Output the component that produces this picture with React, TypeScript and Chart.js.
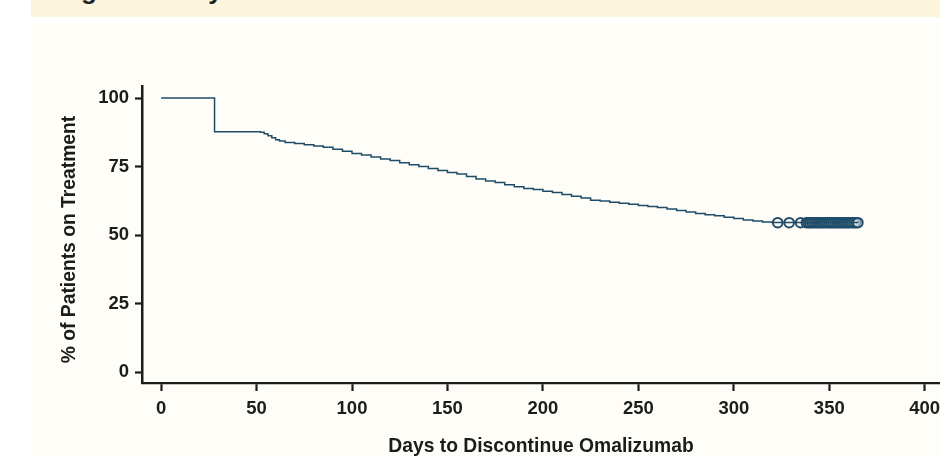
import React, { useEffect, useRef } from "react";
import { Chart, registerables } from "chart.js";

Chart.register(...registerables);

// Kaplan-Meier style step data: day -> % of patients still on treatment
const kmDays = [
  0, 28, 52, 54, 56, 58, 60, 62, 65, 70, 75, 80, 85, 90, 95, 100, 105, 110, 115, 120,
  125, 130, 135, 140, 145, 150, 155, 160, 165, 170, 175, 180, 185, 190, 195, 200, 205,
  210, 215, 220, 225, 230, 235, 240, 245, 250, 255, 260, 265, 270, 275, 280, 285, 290,
  295, 300, 305, 310, 315, 320, 365,
];
const kmPercent = [
  100, 87.7, 87.5, 87.0, 86.2, 85.5, 84.8, 84.3, 83.8, 83.4, 83.0, 82.5, 82.0, 81.3, 80.6,
  79.8, 79.2, 78.5, 77.8, 77.2, 76.4, 75.7, 75.0, 74.3, 73.6, 72.8, 72.3, 71.4, 70.5, 69.7,
  69.2, 68.4, 67.6, 67.0, 66.6, 66.0, 65.5, 64.8, 64.2, 63.5, 62.7, 62.4, 62.0, 61.6, 61.2,
  60.8, 60.4, 60.1, 59.5, 59.0, 58.4, 57.9, 57.4, 57.0, 56.5, 56.0, 55.5, 55.1, 54.8, 54.6,
  54.5,
];

// Censored observations (open circles)
const censorDays = [
  323, 329, 335, 338, 339, 340, 341, 342, 343, 344, 345, 346, 347, 348, 349, 350, 351,
  352, 353, 354, 355, 356, 357, 358, 359, 360, 361, 362, 363, 364, 365,
];
const censorPercent = [
  54.5, 54.5, 54.5, 54.5, 54.5, 54.5, 54.5, 54.5, 54.5, 54.5, 54.5, 54.5, 54.5, 54.5, 54.5,
  54.5, 54.5, 54.5, 54.5, 54.5, 54.5, 54.5, 54.5, 54.5, 54.5, 54.5, 54.5, 54.5, 54.5, 54.5,
  54.5,
];

const xTicks = [0, 50, 100, 150, 200, 250, 300, 350, 400];
const yTicks = [0, 25, 50, 75, 100];

const xTitle = "Days to Discontinue Omalizumab";
const yTitle = "% of Patients on Treatment";
const headerText = "Figure 3: Days to Discontinue Omalizumab";

const LINE = "#1f4d69";
const INK = "#1c1c1c";
const FONT = "'Liberation Sans', Arial, Helvetica, sans-serif";

const titlesPlugin = {
  id: "axisTitles",
  afterDraw(chart: any) {
    const { ctx, chartArea } = chart;
    ctx.save();
    ctx.fillStyle = INK;
    ctx.font = `bold 19.3px ${FONT}`;
    ctx.textAlign = "center";
    ctx.textBaseline = "middle";
    ctx.fillText(xTitle, (chartArea.left + chartArea.right) / 2, 447);
    ctx.translate(70, 239.5);
    ctx.rotate(-Math.PI / 2);
    ctx.fillText(yTitle, 0, 0);
    ctx.restore();
  },
};

export default function App() {
  const ref = useRef<HTMLCanvasElement | null>(null);

  useEffect(() => {
    document.body.style.margin = "0";
    const canvas = ref.current!;
    const chart = new Chart(canvas, {
      type: "line",
      data: {
        datasets: [
          {
            label: "On treatment",
            data: kmDays.map((d, i) => ({ x: d, y: kmPercent[i] })),
            stepped: true,
            borderColor: LINE,
            borderWidth: 1.5,
            pointRadius: 0,
            fill: false,
          },
          {
            type: "scatter",
            label: "Censored",
            data: censorDays.map((d, i) => ({ x: d, y: censorPercent[i] })),
            pointStyle: "circle",
            pointRadius: 4.8,
            pointBorderWidth: 2,
            borderColor: LINE,
            backgroundColor: "rgba(254,253,248,0.4)",
            showLine: false,
          } as any,
        ],
      },
      options: {
        animation: false,
        responsive: false,
        maintainAspectRatio: false,
        layout: { autoPadding: false, padding: { top: 86, left: 0, right: 0, bottom: 0 } },
        plugins: {
          legend: { display: false },
          tooltip: { enabled: false },
          title: { display: false },
        },
        scales: {
          x: {
            type: "linear",
            min: -10,
            max: 408,
            afterBuildTicks: (s: any) => {
              s.ticks = xTicks.map((v) => ({ value: v }));
            },
            afterFit: (s: any) => {
              s.height = 74;
              s.paddingLeft = 0;
              s.paddingRight = 0;
            },
            border: { display: true, color: INK, width: 2.2 },
            grid: {
              display: true,
              drawOnChartArea: false,
              drawTicks: true,
              tickLength: 8,
              tickWidth: 2.2,
              tickColor: INK,
            },
            ticks: {
              color: INK,
              font: { family: FONT, size: 18.5, weight: "bold" },
              padding: 7,
              maxRotation: 0,
              autoSkip: false,
              callback: (v: any) => String(v),
            },
          },
          y: {
            type: "linear",
            min: -4,
            max: 104.4,
            afterBuildTicks: (s: any) => {
              s.ticks = yTicks.map((v) => ({ value: v }));
            },
            afterFit: (s: any) => {
              s.width = 142;
              s.paddingTop = 0;
              s.paddingBottom = 0;
            },
            border: { display: true, color: INK, width: 2.5 },
            grid: {
              display: true,
              drawOnChartArea: false,
              drawTicks: true,
              tickLength: 7,
              tickWidth: 2.2,
              tickColor: INK,
            },
            ticks: {
              color: INK,
              font: { family: FONT, size: 18.5, weight: "bold" },
              padding: 6,
              autoSkip: false,
              callback: (v: any) => String(v),
            },
          },
        },
      },
      plugins: [titlesPlugin],
    });
    return () => chart.destroy();
  }, []);

  return (
    <div style={{ position: "relative", width: 940, height: 457, overflow: "hidden", background: "#ffffff" }}>
      <div
        style={{
          position: "absolute",
          left: 31,
          top: 0,
          width: 909,
          height: 17,
          background: "#fdf4dc",
          overflow: "hidden",
        }}
      >
        <span
          style={{
            position: "absolute",
            left: 27,
            top: -23,
            whiteSpace: "nowrap",
            fontFamily: FONT,
            fontWeight: "bold",
            fontSize: 26,
            lineHeight: "26px",
            color: "#222",
          }}
        >
          {headerText}
        </span>
      </div>
      <div
        style={{
          position: "absolute",
          left: 31,
          top: 23,
          width: 909,
          height: 434,
          background: "#fefdf8",
        }}
      />
      <canvas
        ref={ref}
        width={940}
        height={457}
        style={{ position: "absolute", left: 0, top: 0, width: 940, height: 457 }}
      />
    </div>
  );
}
